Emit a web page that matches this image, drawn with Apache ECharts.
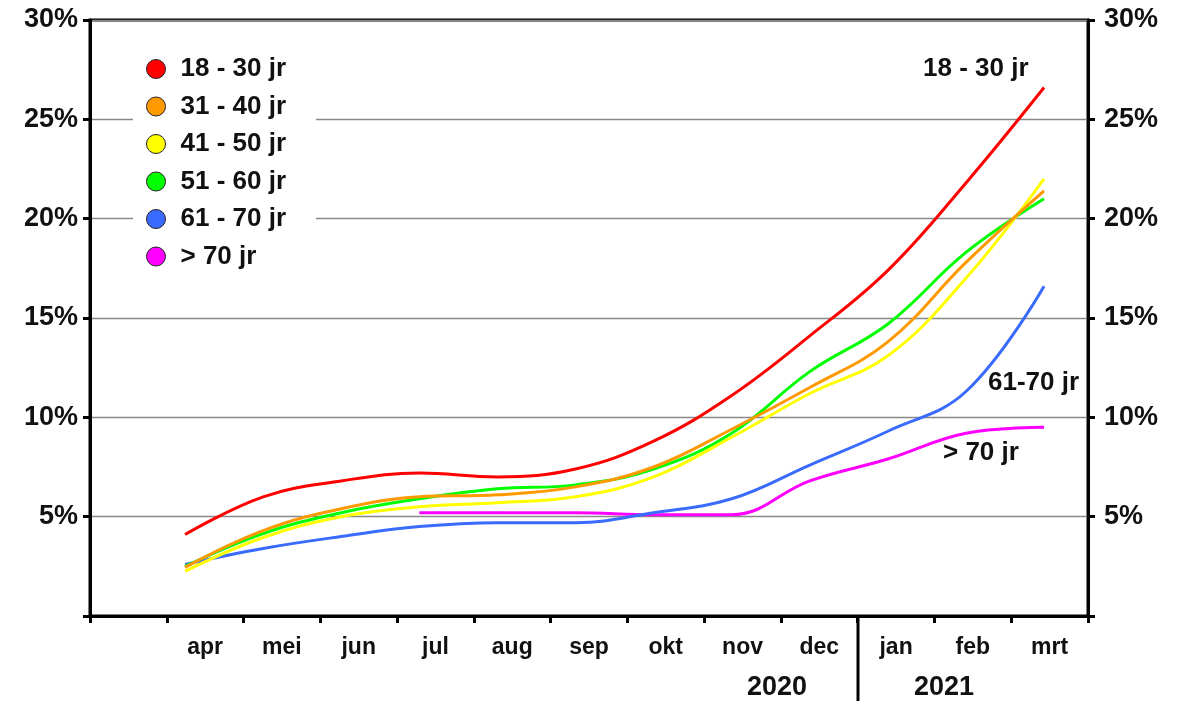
<!DOCTYPE html>
<html>
<head>
<meta charset="utf-8">
<title>Leeftijdsgroepen</title>
<script src="https://cdn.jsdelivr.net/npm/echarts@6/dist/echarts.min.js"></script>
<style>
  html, body { margin: 0; padding: 0; background: #fff; }
  #chart { width: 1181px; height: 701px; }
</style>
</head>
<body>
<div id="chart"></div>
<script>
// maanden (eerste vak op de as is leeg)
const axisMonths = ['', 'apr', 'mei', 'jun', 'jul', 'aug', 'sep', 'okt', 'nov', 'dec', 'jan', 'feb', 'mrt'];
const yTicks = [0, 5, 10, 15, 20, 25, 30];

const groups = ['18 - 30 jr', '31 - 40 jr', '41 - 50 jr', '51 - 60 jr', '61 - 70 jr', '> 70 jr'];
const colors = ['#ff0000', '#ff9900', '#ffff00', '#00ff00', '#3a6bff', '#ff00ff'];

// percentages per maand, apr 2020 .. mrt 2021
const age18_30 = [4.1, 6.0, 6.8, 7.2, 7.0, 7.4, 8.8, 11.1, 14.1, 17.4, 21.8, 26.6];
const age31_40 = [2.45, 4.3, 5.4, 6.0, 6.1, 6.5, 7.5, 9.4, 11.5, 13.8, 17.8, 21.4];
const age41_50 = [2.25, 3.95, 5.0, 5.5, 5.7, 6.0, 7.0, 9.0, 11.2, 13.1, 17.0, 22.0];
const age51_60 = [2.5, 4.15, 5.2, 5.9, 6.4, 6.6, 7.4, 9.2, 12.3, 14.7, 18.3, 21.0];
const age61_70 = [2.6, 3.4, 4.0, 4.5, 4.7, 4.7, 5.2, 5.9, 7.6, 9.3, 11.3, 16.6];
const age70plus = [null, null, null, 5.2, 5.2, 5.2, 5.1, 5.1, 6.8, 7.9, 9.2, 9.5];

const allValues = [age18_30, age31_40, age41_50, age51_60, age61_70, age70plus];

const FONT = '"Liberation Sans", Arial, Helvetica, sans-serif';

function toPoints(arr) {
  const out = [];
  arr.forEach((v, i) => { if (v != null) out.push([i, v]); });
  return out;
}

// teken volgorde: lagere groepen eerst, rood bovenop
const drawOrder = [5, 4, 3, 2, 1, 0];

const series = drawOrder.map(k => ({
  name: groups[k],
  type: 'line',
  xAxisIndex: 1,
  yAxisIndex: 0,
  smooth: 0.4,
  showSymbol: false,
  symbol: 'circle',
  itemStyle: { color: colors[k] },
  lineStyle: { color: colors[k], width: 3 },
  data: toPoints(allValues[k])
}));

const yLabel = v => (v === 0 ? '' : v + '%');

const chart = echarts.init(document.getElementById('chart'));
chart.setOption({
  animation: false,
  backgroundColor: '#fff',
  textStyle: { fontFamily: FONT },
  grid: {
    left: 90, right: 93, top: 20, bottom: 85,
    show: true, borderColor: '#000', borderWidth: 3, backgroundColor: 'transparent'
  },
  legend: {
    data: groups,
    orient: 'vertical',
    left: 133,
    top: 48,
    backgroundColor: '#fff',
    padding: [8, 30, 8, 13],
    icon: 'circle',
    itemWidth: 19,
    itemHeight: 19,
    itemGap: 11.5,
    itemStyle: { borderColor: '#222', borderWidth: 1 },
    textStyle: {
      fontFamily: FONT, fontSize: 26, fontWeight: 'bold', color: '#111',
      padding: [0, 0, 0, 10]
    }
  },
  xAxis: [
    {
      type: 'category',
      data: axisMonths,
      boundaryGap: true,
      axisLine: { onZero: false, lineStyle: { color: '#000', width: 3 } },
      axisTick: { show: true, interval: 0, length: 7, lineStyle: { color: '#000', width: 3 } },
      axisLabel: {
        interval: 0, margin: 20,
        fontFamily: FONT, fontSize: 23, fontWeight: 'bold', color: '#111'
      },
      splitLine: { show: false }
    },
    {
      type: 'value',
      min: -1.217,
      max: 11.563,
      show: false,
      axisLine: { onZero: false }
    }
  ],
  yAxis: [
    {
      type: 'value',
      position: 'left',
      min: yTicks[0], max: yTicks[yTicks.length - 1], interval: 5,
      axisLine: { show: true, onZero: false, lineStyle: { color: '#000', width: 3 } },
      axisTick: { show: true, length: 7, lineStyle: { color: '#000', width: 3 } },
      axisLabel: {
        formatter: yLabel, margin: 12,
        fontFamily: FONT, fontSize: 27, fontWeight: 'bold', color: '#111'
      },
      splitLine: { show: true, lineStyle: { color: '#888', width: 1.3 } }
    },
    {
      type: 'value',
      position: 'right',
      min: yTicks[0], max: yTicks[yTicks.length - 1], interval: 5,
      axisLine: { show: true, onZero: false, lineStyle: { color: '#000', width: 3 } },
      axisTick: { show: true, length: 7, lineStyle: { color: '#000', width: 3 } },
      axisLabel: {
        formatter: yLabel, margin: 16,
        fontFamily: FONT, fontSize: 27, fontWeight: 'bold', color: '#111'
      },
      splitLine: { show: false }
    }
  ],
  graphic: [
    // scheiding 2020 / 2021
    { type: 'line', shape: { x1: 858, y1: 616, x2: 858, y2: 701 }, style: { stroke: '#000', lineWidth: 3 } },
    { type: 'text', x: 777, y: 688, style: { text: '2020', font: 'bold 27px ' + FONT, fill: '#111', align: 'center', verticalAlign: 'middle' } },
    { type: 'text', x: 944, y: 688, style: { text: '2021', font: 'bold 27px ' + FONT, fill: '#111', align: 'center', verticalAlign: 'middle' } },
    // labels bij de lijnen
    { type: 'text', x: 923, y: 69, style: { text: '18 - 30 jr', font: 'bold 26px ' + FONT, fill: '#111', align: 'left', verticalAlign: 'middle' } },
    { type: 'text', x: 988, y: 383, style: { text: '61-70 jr', font: 'bold 26px ' + FONT, fill: '#111', align: 'left', verticalAlign: 'middle' } },
    { type: 'text', x: 943, y: 453, style: { text: '> 70 jr', font: 'bold 26px ' + FONT, fill: '#111', align: 'left', verticalAlign: 'middle' } }
  ],
  series: series
});
</script>
</body>
</html>
